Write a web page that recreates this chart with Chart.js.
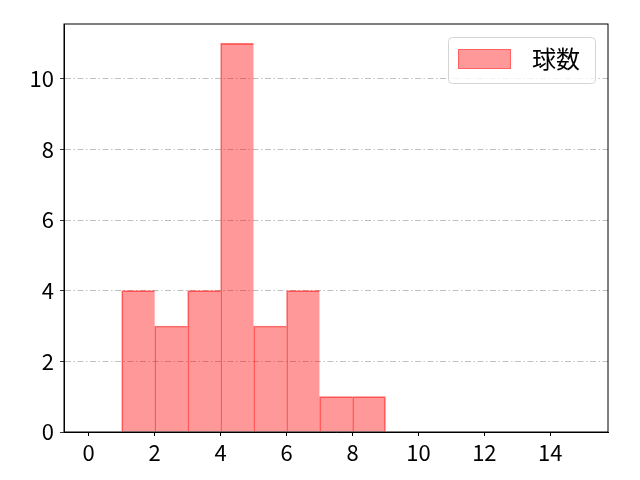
<!DOCTYPE html>
<html>
<head>
<meta charset="utf-8">
<script src="https://cdn.jsdelivr.net/npm/chart.js@4/dist/chart.umd.min.js"></script>
<style>
  html, body { margin: 0; padding: 0; background: #fff; }
  #wrap { width: 640px; height: 480px; }
</style>
</head>
<body>
<div id="wrap"><canvas id="hist"></canvas></div>
<script>
// histogram bins (left edges, width 1) and counts
var binStarts = [0, 1, 2, 3, 4, 5, 6, 7, 8, 9, 10, 11, 12, 13, 14];
var counts    = [0, 4, 3, 4, 11, 3, 4, 1, 1, 0, 0, 0, 0, 0, 0];
var xTicks = [0, 2, 4, 6, 8, 10, 12, 14];
var yTicks = [0, 2, 4, 6, 8, 10];
var seriesLabel = "球数";

var FONT = "'Noto Sans CJK JP', 'Noto Sans', sans-serif";

var points = binStarts.map(function (b, i) { return { x: b + 0.5, y: counts[i] }; });

// frame + legend box drawn like matplotlib
var framePlugin = {
  id: 'frame',
  afterDraw: function (chart) {
    var ctx = chart.ctx, a = chart.chartArea;
    ctx.save();
    ctx.strokeStyle = '#000';
    ctx.lineWidth = 1;
    ctx.strokeRect(a.left, a.top, a.right - a.left, a.bottom - a.top);

    // legend
    var ds = chart.data.datasets[0];
    var bx = 448, by = 37, bw = 147, bh = 46;
    ctx.beginPath();
    ctx.roundRect(bx + 0.5, by + 0.5, bw, bh, 4);
    ctx.fillStyle = 'rgba(255,255,255,0.8)';
    ctx.fill();
    ctx.strokeStyle = '#d5d5d5';
    ctx.stroke();
    ctx.fillStyle = ds.backgroundColor;
    ctx.fillRect(458, 49, 53, 20);
    ctx.strokeStyle = 'rgba(255,0,0,0.35)';
    ctx.strokeRect(458.5, 49.5, 52, 19);
    ctx.fillStyle = '#000';
    ctx.font = '24px ' + FONT;
    ctx.textBaseline = 'middle';
    ctx.textAlign = 'left';
    ctx.fillText(ds.label, 532, 59);
    ctx.restore();
  }
};

new Chart(document.getElementById('hist'), {
  type: 'bar',
  data: {
    datasets: [{
      label: seriesLabel,
      data: points,
      backgroundColor: 'rgba(255,0,0,0.4)',
      borderColor: 'rgba(255,0,0,0.55)',
      borderWidth: function (c) {
        var i = c.dataIndex;
        var next = i + 1 < counts.length ? counts[i + 1] : 0;
        return { top: 1, left: 1, bottom: 0, right: next === 0 ? 1 : 0 };
      },
      borderSkipped: false,
      barPercentage: 1,
      categoryPercentage: 1
    }]
  },
  options: {
    responsive: true,
    maintainAspectRatio: false,
    animation: false,
    layout: { padding: { top: 24, right: 32, left: 0, bottom: 0 } },
    plugins: { legend: { display: false }, tooltip: { enabled: false } },
    scales: {
      x: {
        type: 'linear',
        min: -0.75,
        max: 15.75,
        offset: false,
        afterFit: function (s) { s.height = 48; },
        afterBuildTicks: function (s) { s.ticks = xTicks.map(function (v) { return { value: v }; }); },
        ticks: { font: { family: FONT, size: 22 }, color: '#000', padding: 3, maxRotation: 0 },
        grid: { offset: false, drawOnChartArea: false, tickLength: 4, tickColor: '#000' },
        border: { color: '#000' }
      },
      y: {
        min: 0,
        max: 11.55,
        z: 1,
        afterFit: function (s) { s.width = 64; },
        afterBuildTicks: function (s) { s.ticks = yTicks.map(function (v) { return { value: v }; }); },
        ticks: { font: { family: FONT, size: 22 }, color: '#000', padding: 6 },
        grid: { color: '#b0b0b0', lineWidth: 0.8, tickLength: 4, tickColor: '#000', tickBorderDash: [] },
        border: { color: '#000', dash: [6, 2.5, 1.5, 2.5] }
      }
    }
  },
  plugins: [framePlugin]
});
</script>
</body>
</html>
